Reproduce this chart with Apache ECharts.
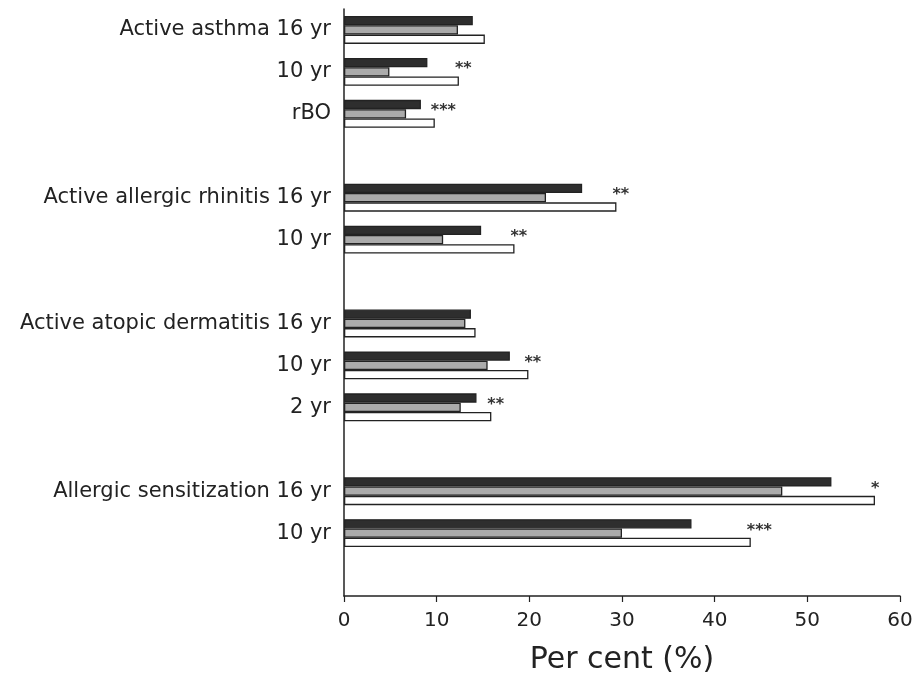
<!DOCTYPE html>
<html>
<head>
<meta charset="utf-8">
<script src="https://cdn.jsdelivr.net/npm/echarts@6/dist/echarts.min.js"></script>
<style>
  html, body { margin: 0; padding: 0; background: #fff; }
  #chart { width: 916px; height: 680px; }
</style>
</head>
<body>
<div id="chart"></div>
<script>
// Outcome rows, top to bottom; empty strings are spacer rows between outcome groups
const categories = [
  'Active asthma 16 yr', '10 yr', 'rBO', '',
  'Active allergic rhinitis 16 yr', '10 yr', '',
  'Active atopic dermatitis 16 yr', '10 yr', '2 yr', '',
  'Allergic sensitization 16 yr', '10 yr', ''
];

// Prevalence (%) per group
const groupDark  = [13.9, 9.0, 8.3, null, 25.7, 14.8, null, 13.7, 17.9, 14.3, null, 52.6, 37.5, null];
const groupGrey  = [12.3, 4.9, 6.7, null, 21.8, 10.7, null, 13.1, 15.5, 12.6, null, 47.3, 30.0, null];
const groupWhite = [15.2, 12.4, 9.8, null, 29.4, 18.4, null, 14.2, 19.9, 15.9, null, 57.3, 43.9, null];

// Significance markers shown beside each row
const significance = ['', '**', '***', '', '**', '**', '', '', '**', '**', '', '*', '***', ''];

const xTicks = { min: 0, max: 60, interval: 10 };

const ink = '#222';
const barBorder = { borderColor: ink, borderWidth: 1.3 };

const chart = echarts.init(document.getElementById('chart'), null, { renderer: 'canvas' });

chart.setOption({
  animation: false,
  backgroundColor: '#fff',
  textStyle: { fontFamily: 'DejaVu Sans' },
  grid: { left: 344, right: 16, top: 9, bottom: 83, containLabel: false },
  xAxis: {
    type: 'value',
    min: xTicks.min,
    max: xTicks.max,
    interval: xTicks.interval,
    name: 'Per cent (%)',
    nameLocation: 'middle',
    nameGap: 49,
    nameTextStyle: { color: ink, fontSize: 30, fontFamily: 'DejaVu Sans' },
    axisLine: { show: true, lineStyle: { color: ink, width: 1.5 } },
    axisTick: { show: true, length: 6, lineStyle: { color: ink, width: 1.2 } },
    axisLabel: { color: ink, fontSize: 20, margin: 15, fontFamily: 'DejaVu Sans' },
    splitLine: { show: false }
  },
  yAxis: {
    type: 'category',
    inverse: true,
    data: categories,
    axisLine: { show: true, lineStyle: { color: ink, width: 1.5 } },
    axisTick: { show: false },
    axisLabel: { color: ink, fontSize: 21, margin: 13, fontFamily: 'DejaVu Sans' },
    splitLine: { show: false }
  },
  series: [
    {
      name: 'Group 1',
      type: 'bar',
      data: groupDark,
      barWidth: 9.3,
      barGap: '0%',
      itemStyle: Object.assign({ color: '#2e2e2e' }, barBorder)
    },
    {
      name: 'Group 2',
      type: 'bar',
      data: groupGrey,
      barWidth: 9.3,
      barGap: '0%',
      itemStyle: Object.assign({ color: '#ababab' }, barBorder)
    },
    {
      name: 'Group 3',
      type: 'bar',
      data: groupWhite,
      barWidth: 9.3,
      barGap: '0%',
      itemStyle: Object.assign({ color: '#ffffff' }, barBorder),
      label: {
        show: true,
        position: 'right',
        distance: 0,
        offset: [-4, -12],
        color: '#333',
        fontSize: 16,
        fontWeight: 'bold',
        fontFamily: 'DejaVu Sans',
        formatter: (p) => significance[p.dataIndex]
      }
    }
  ]
});
</script>
</body>
</html>
